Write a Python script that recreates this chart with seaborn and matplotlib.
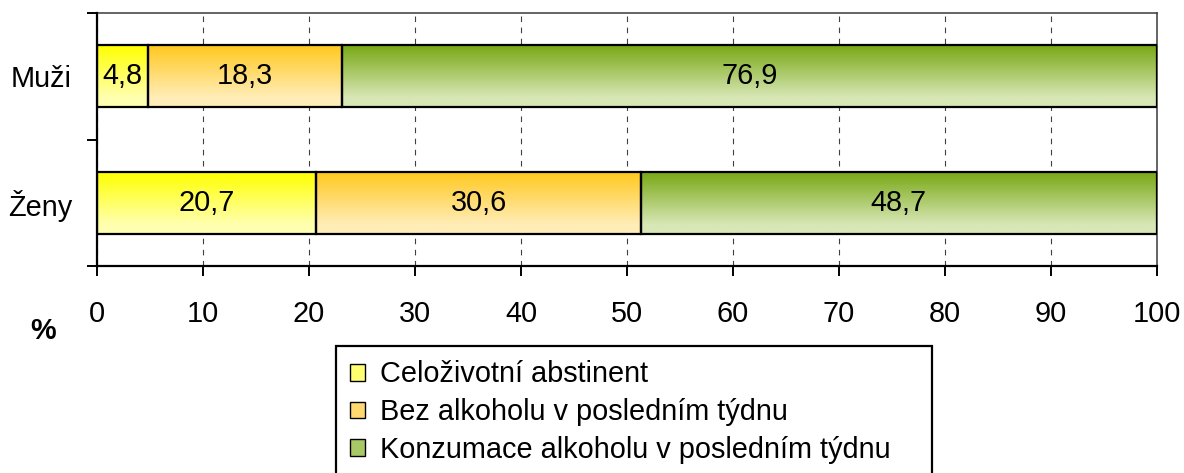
import numpy as np
import matplotlib
matplotlib.use('Agg')
import matplotlib.pyplot as plt
import seaborn as sns
from matplotlib.patches import Patch
from matplotlib.colors import to_rgb

# ---- data ----
categories = ['Muži', 'Ženy']
series_names = ['Celoživotní abstinent',
                'Bez alkoholu v posledním týdnu',
                'Konzumace alkoholu v posledním týdnu']
abstinent = [4.8, 20.7]
bez_alkoholu = [18.3, 30.6]
konzumace = [76.9, 48.7]
x_ticks = [0, 10, 20, 30, 40, 50, 60, 70, 80, 90, 100]

# ---- style ----
top_colors = ['#FFFF00', '#FFC81E', '#78A814']
bottom_colors = ['#FFFFB0', '#FFEDB8', '#D8E7B6']
legend_colors = ['#FFFF70', '#FFD970', '#A8C868']

sns.set_style('white')
plt.rcParams['font.family'] = ['Liberation Sans', 'DejaVu Sans']
plt.rcParams['text.color'] = 'black'
plt.rcParams['xtick.color'] = 'black'
plt.rcParams['ytick.color'] = 'black'
plt.rcParams['xtick.labelcolor'] = 'black'
plt.rcParams['ytick.labelcolor'] = 'black'
FS = 20.8

W_PX, H_PX = 1184, 473
fig = plt.figure(figsize=(W_PX / 100, H_PX / 100), dpi=100)
ax = fig.add_axes([97 / W_PX, 1 - 266 / H_PX, (1157 - 97) / W_PX, (266 - 13) / H_PX])


def gradient(c_top, c_bot, n=200, reach=0.85):
    t = np.clip(np.linspace(0, 1, n) / reach, 0, 1)
    a, b = np.array(to_rgb(c_top)), np.array(to_rgb(c_bot))
    return (a[None, :] * (1 - t[:, None]) + b[None, :] * t[:, None])[:, None, :]


series = [abstinent, bez_alkoholu, konzumace]
left = np.zeros(len(categories))
for vals, ct, cb in zip(series, top_colors, bottom_colors):
    n_before = len(ax.patches)
    sns.barplot(x=vals, y=categories, orient='h', left=left, width=0.49,
                color=ct, edgecolor='black', linewidth=1.6, ax=ax, zorder=3,
                saturation=1)
    new_patches = ax.patches[n_before:]
    for p, v in zip(new_patches, vals):
        x0, y0, w, h = p.get_x(), p.get_y(), p.get_width(), p.get_height()
        p.set_facecolor('none')
        im = ax.imshow(gradient(ct, cb), extent=(x0, x0 + w, y0 + h, y0),
                       origin='upper', aspect='auto', zorder=2.5,
                       interpolation='bilinear')
        im.set_clip_path(p)
        ax.text(x0 + w / 2, y0 + h / 2, f"{v:.1f}".replace('.', ','),
                ha='center', va='center', fontsize=FS, zorder=4, color='black')
    left = left + np.array(vals)

ax.set_xlim(0, 100)
ax.set_ylim(len(categories) - 0.5, -0.5)
ax.set_xlabel('')
ax.set_ylabel('')

ax.set_xticks(x_ticks)
ax.set_xticklabels([str(t) for t in x_ticks], fontsize=FS)
ax.tick_params(axis='x', direction='out', length=7.2, width=1.4, pad=17,
               color='black', bottom=True)
ax.set_yticks(range(len(categories)))
ax.set_yticklabels(categories, fontsize=FS)
ax.tick_params(axis='y', which='major', length=0, pad=18)
ax.set_yticks(np.arange(-0.5, len(categories), 1.0), minor=True)
ax.tick_params(axis='y', which='minor', direction='out', length=7.2,
               width=1.4, color='black', left=True)

ax.xaxis.grid(True, linestyle=(0, (5, 5)), color='#404040', linewidth=0.8)
ax.yaxis.grid(False)
ax.set_axisbelow(True)

for s in ['left', 'bottom']:
    ax.spines[s].set_color('black')
    ax.spines[s].set_linewidth(1.6)
    ax.spines[s].set_zorder(5)
for s in ['top', 'right']:
    ax.spines[s].set_color('#3a3a3a')
    ax.spines[s].set_linewidth(1.1)
    ax.spines[s].set_visible(True)

fig.text(43 / W_PX, 1 - 331 / H_PX, '%', ha='center', va='center',
         fontsize=FS, fontweight='bold', color='black')

handles = [Patch(facecolor=c, edgecolor='black', linewidth=1.0) for c in legend_colors]
leg = fig.legend(handles, series_names, loc='upper left',
                 bbox_to_anchor=(336 / W_PX, 0.0, (932 - 336) / W_PX, 1 - 346 / H_PX),
                 mode='expand', fontsize=FS, frameon=True, fancybox=False,
                 shadow=False, framealpha=1, edgecolor='black',
                 handlelength=0.52, handleheight=0.52, handletextpad=0.5,
                 labelspacing=0.34, borderpad=0.5, borderaxespad=0)
leg.get_frame().set_linewidth(1.6)
for t in leg.get_texts():
    t.set_color('black')

fig.savefig('out.png', dpi=100)
